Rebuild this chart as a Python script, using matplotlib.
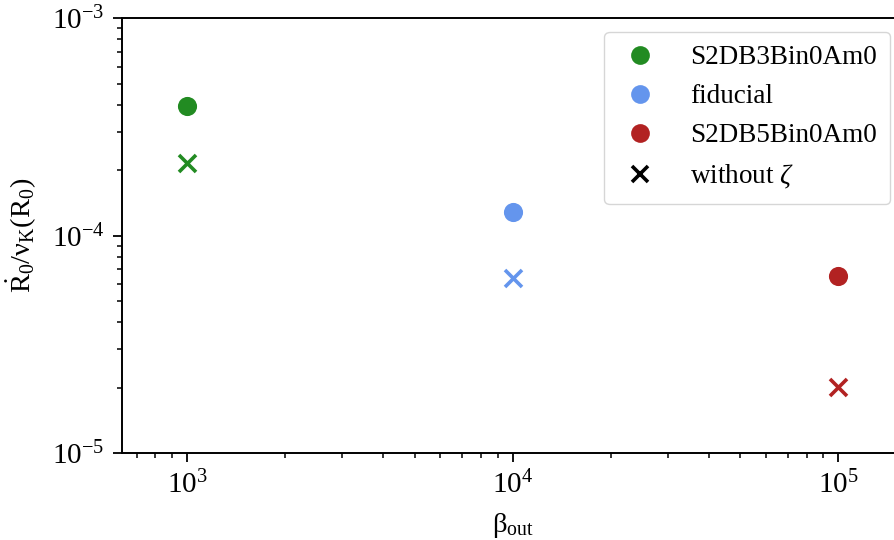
import matplotlib
matplotlib.use("Agg")
import matplotlib.pyplot as plt
from matplotlib.lines import Line2D

plt.rcParams['font.family'] = ['Liberation Serif', 'DejaVu Serif']
plt.rcParams['mathtext.fontset'] = 'custom'
plt.rcParams['mathtext.rm'] = 'Liberation Serif'
plt.rcParams['mathtext.it'] = 'Liberation Serif:italic'
plt.rcParams['mathtext.bf'] = 'Liberation Serif:bold'

# Data
runs = ["S2DB3Bin0Am0", "fiducial", "S2DB5Bin0Am0"]
beta_out = [1e3, 1e4, 1e5]
rdot_with_zeta = [3.94e-4, 1.28e-4, 6.52e-5]
rdot_without_zeta = [2.16e-4, 6.38e-5, 2.01e-5]
colors = ["#228B22", "#6495ED", "#B22222"]

fig = plt.figure(figsize=(8.94, 5.4), dpi=100)
ax = fig.add_axes([122.3/894, 1-453/540, (903-122.3)/894, (453-18.3)/540])

for x, y1, y2, c in zip(beta_out, rdot_with_zeta, rdot_without_zeta, colors):
    ax.scatter([x], [y1], s=190, color=c, marker='o', linewidths=0, zorder=3)
    ax.scatter([x], [y2], s=150, color=c, marker='x', linewidths=2.6, zorder=3)

ax.set_xscale('log')
ax.set_yscale('log')
ax.set_xlim(633, 1.58e5)
ax.set_ylim(1e-5, 1e-3)

ax.set_xlabel(r'$\mathrm{β}_\mathrm{out}$', fontsize=20.5, labelpad=8)
ax.set_ylabel(r'$\dot{\mathrm{R}}_0/\mathrm{ν}_\mathrm{K}(\mathrm{R}_0)$', fontsize=20.5, labelpad=9)

for s in ax.spines.values():
    s.set_linewidth(1.4)
ax.tick_params(which='major', length=6.5, width=1.3, labelsize=21, pad=6.5)
ax.tick_params(which='minor', length=3.6, width=1.1)

handles = [Line2D([], [], linestyle='none', marker='o', markersize=13.5,
                  markerfacecolor=c, markeredgewidth=0) for c in colors]
handles.append(Line2D([], [], linestyle='none', marker='x', markersize=12,
                      color='black', markeredgewidth=2.6))
labels = runs + [r'without $\mathit{ζ}$']
fig.legend(handles, labels, loc='upper right',
           bbox_to_anchor=(890/894, 1-31.7/540), borderaxespad=0,
           fontsize=19.5, frameon=True, handlelength=1.6, handletextpad=1.05,
           labelspacing=0.52, borderpad=0.5)

fig.savefig('out.png', dpi=100)
